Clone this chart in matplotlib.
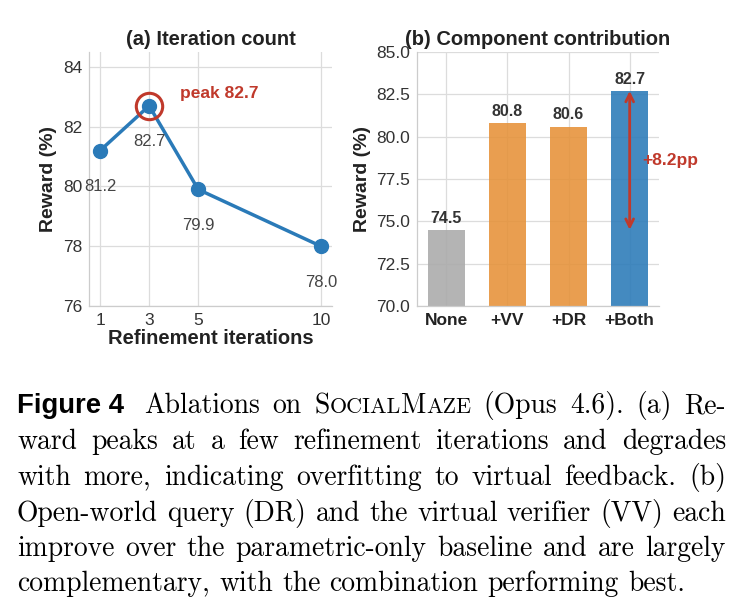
import matplotlib
matplotlib.use("Agg")
import matplotlib.pyplot as plt
from matplotlib.font_manager import FontProperties

plt.rcParams['font.family'] = ['Liberation Sans', 'DejaVu Sans']

# data
iters = [1, 3, 5, 10]
reward_iter = [81.2, 82.7, 79.9, 78.0]
components = ['None', '+VV', '+DR', '+Both']
reward_comp = [74.5, 80.8, 80.6, 82.7]
bar_colors = ['#aaaaaa', '#e69138', '#e69138', '#2a7ab8']
gain_label = '+8.2pp'

caption_lines = [
    "Ablations on SOCIALMAZE (Opus 4.6). (a) Re-",
    "ward peaks at a few refinement iterations and degrades",
    "with more, indicating overfitting to virtual feedback. (b)",
    "Open-world query (DR) and the virtual verifier (VV) each",
    "improve over the parametric-only baseline and are largely",
    "complementary, with the combination performing best.",
]

W, H = 742, 600
BLUE = '#2a7ab8'
RED = '#c0392b'
GRID = '#dcdcdc'

fig = plt.figure(figsize=(W / 100, H / 100), dpi=100)
ax1 = fig.add_axes([89 / W, 1 - 306 / H, 243 / W, 254 / H])
ax2 = fig.add_axes([417 / W, 1 - 306 / H, 242 / W, 254 / H])

for ax in (ax1, ax2):
    ax.set_axisbelow(True)
    ax.grid(True, color=GRID, lw=0.9)
    for s in ['top', 'right']:
        ax.spines[s].set_visible(False)
    for s in ['left', 'bottom']:
        ax.spines[s].set_color('#cccccc')
        ax.spines[s].set_linewidth(0.9)
    ax.tick_params(length=0, pad=5, labelsize=12.5, labelcolor='#333333')

# (a) iteration count
ax1.plot(iters, reward_iter, color=BLUE, lw=2.5, marker='o', ms=10, zorder=3)
ax1.plot(iters[1], reward_iter[1], 'o', ms=19, mfc='none', mec=RED, mew=2.2, zorder=4)
for x, y in zip(iters, reward_iter):
    ax1.annotate(f"{y:.1f}", (x, y), xytext=(0, -26), textcoords='offset points',
                 ha='center', va='center', fontsize=12, color='#444444')
ax1.annotate(f"peak {reward_iter[1]:.1f}", (iters[1], reward_iter[1]), xytext=(22, 9),
             textcoords='offset points', ha='left', va='center',
             fontsize=12.5, fontweight='bold', color=RED)
ax1.set_xticks(iters)
ax1.set_ylim(76, 84.5)
ax1.set_yticks([76, 78, 80, 82, 84])
ax1.set_xlabel("Refinement iterations", fontsize=14.5, fontweight='bold', color='#222222', labelpad=1)
ax1.set_ylabel("Reward (%)", fontsize=14, fontweight='bold', color='#222222', labelpad=4)
ax1.set_title("(a) Iteration count", fontsize=14.5, fontweight='bold', color='#222222', pad=5)

# (b) component contribution
pos = list(range(len(components)))
ax2.bar(pos, reward_comp, width=0.6, color=bar_colors, alpha=0.88)
for x, y in zip(pos, reward_comp):
    ax2.annotate(f"{y:.1f}", (x, y), xytext=(0, 3), textcoords='offset points',
                 ha='center', va='bottom', fontsize=11.5, fontweight='bold', color='#333333')
ax2.annotate('', xy=(3, reward_comp[3]), xytext=(3, reward_comp[0]),
             arrowprops=dict(arrowstyle='<->', color=RED, lw=2, mutation_scale=14,
                             shrinkA=0, shrinkB=0))
ax2.text(3.2, (reward_comp[0] + reward_comp[3]) / 2, gain_label, ha='left', va='center',
         fontsize=12.5, fontweight='bold', color=RED)
ax2.set_xticks(pos)
ax2.set_xticklabels(components, fontweight='bold', color='#222222')
ax2.set_ylim(70, 85)
ax2.set_ylabel("Reward (%)", fontsize=14, fontweight='bold', color='#222222', labelpad=4)
ax2.set_title("(b) Component contribution", fontsize=14.5, fontweight='bold', color='#222222', pad=5)

# caption, justified like the paper
fig.canvas.draw()
renderer = fig.canvas.get_renderer()
serif = FontProperties(family='cmr10', size=19.9)
small = FontProperties(family='cmr10', size=15.9)
head = FontProperties(family='Liberation Sans', weight='bold', size=19.8)


def tw(s, p):
    return renderer.get_text_width_height_descent(s, p, ismath=False)[0]


def runs(word):
    if word == 'SOCIALMAZE':
        return [('S', serif), ('OCIAL', small), ('M', serif), ('AZE', small)]
    return [(word, serif)]


left, right = 17, 726
space = tw('a a', serif) - tw('aa', serif)
baselines = [413, 449, 485, 521, 556, 591]
for i, line in enumerate(caption_lines):
    y = 1 - baselines[i] / H
    x0 = left
    if i == 0:
        fig.text(left / W, y, "Figure 4", fontproperties=head, va='baseline', ha='left')
        x0 = 144
    words = [runs(w) for w in line.split()]
    widths = [sum(tw(s, p) for s, p in r) for r in words]
    if i < len(caption_lines) - 1:
        gap = (right - x0 - sum(widths)) / (len(words) - 1)
    else:
        gap = space
    x = x0
    for r, wd in zip(words, widths):
        xx = x
        for s, p in r:
            fig.text(xx / W, y, s, fontproperties=p, va='baseline', ha='left')
            xx += tw(s, p)
        x += wd + gap

fig.savefig("out.png", dpi=100)
